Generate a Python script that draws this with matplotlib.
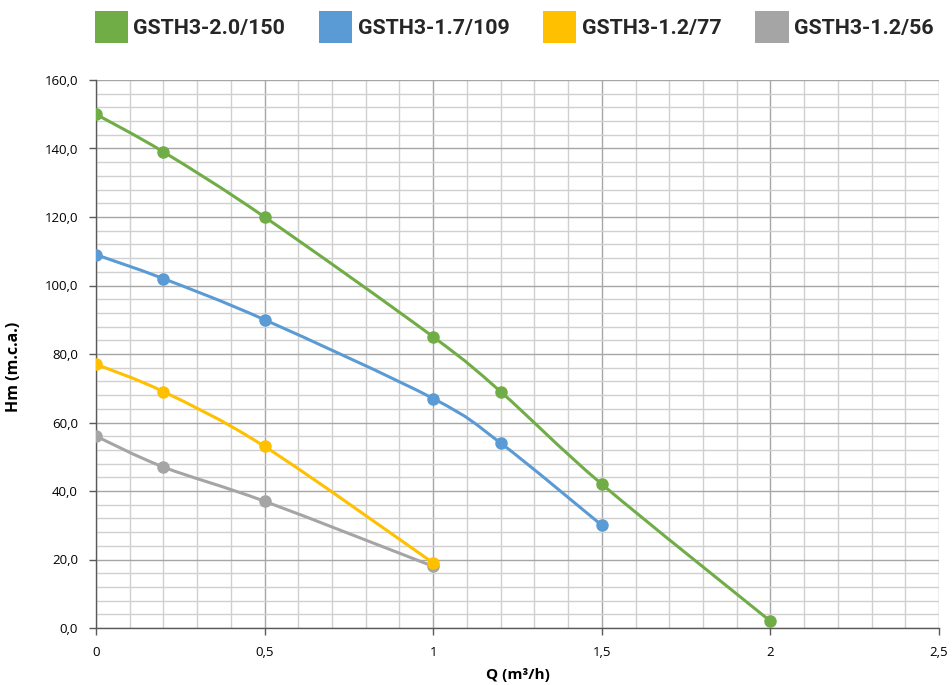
import matplotlib
matplotlib.use("Agg")
import matplotlib.pyplot as plt
from matplotlib.path import Path
from matplotlib.patches import PathPatch, Patch
from matplotlib.ticker import MultipleLocator, FuncFormatter
import numpy as np

# ---- data ----
series_names = ["GSTH3-2.0/150", "GSTH3-1.7/109", "GSTH3-1.2/77", "GSTH3-1.2/56"]
q_green = [0, 0.2, 0.5, 1.0, 1.2, 1.5, 2.0]
h_green = [150, 139, 120, 85, 69, 42, 2]
q_blue = [0, 0.2, 0.5, 1.0, 1.2, 1.5]
h_blue = [109, 102, 90, 67, 54, 30]
q_yellow = [0, 0.2, 0.5, 1.0]
h_yellow = [77, 69, 53, 19]
q_gray = [0, 0.2, 0.5, 1.0]
h_gray = [56, 47, 37, 18]
colors = ["#70AD47", "#5B9BD5", "#FFC000", "#A5A5A5"]
x_label = "Q (m³/h)"
y_label = "Hm (m.c.a.)"

fig = plt.figure(figsize=(9.52, 6.85), dpi=100)
ax = fig.add_axes([96/952, 1-628/685, (939-96)/952, (628-80)/685])

def smooth_path(xs, ys):
    pts = np.column_stack([xs, ys]).astype(float)
    n = len(pts)
    verts = [pts[0]]
    codes = [Path.MOVETO]
    for i in range(n - 1):
        p0 = pts[i - 1] if i > 0 else pts[i]
        p1 = pts[i]
        p2 = pts[i + 1]
        p3 = pts[i + 2] if i + 2 < n else pts[i + 1]
        c1 = p1 + (p2 - p0) / 6.0
        c2 = p2 - (p3 - p1) / 6.0
        verts += [c1, c2, p2]
        codes += [Path.CURVE4] * 3
    return Path(verts, codes)

data = [(q_green, h_green), (q_blue, h_blue), (q_yellow, h_yellow), (q_gray, h_gray)]
for (qs, hs), c in reversed(list(zip(data, colors))):
    ax.add_patch(PathPatch(smooth_path(qs, hs), facecolor="none", edgecolor=c,
                           lw=2.2, capstyle="round", zorder=3))
    ax.plot(qs, hs, linestyle="none", marker="o", ms=8, color=c, zorder=4)

ax.set_xlim(0, 2.5)
ax.set_ylim(0, 160)
ax.xaxis.set_major_locator(MultipleLocator(0.5))
ax.xaxis.set_minor_locator(MultipleLocator(0.1))
ax.yaxis.set_major_locator(MultipleLocator(20))
ax.yaxis.set_minor_locator(MultipleLocator(4))
ax.grid(which="major", color="#A6A6A6", lw=1.0, zorder=1)
ax.grid(which="minor", color="#D0D0D0", lw=1.0, zorder=0)
ax.set_axisbelow(True)

def fmt_x(v, p):
    return ("%g" % round(v, 2)).replace(".", ",")

def fmt_y(v, p):
    return ("%.1f" % v).replace(".", ",")

ax.xaxis.set_major_formatter(FuncFormatter(fmt_x))
ax.yaxis.set_major_formatter(FuncFormatter(fmt_y))

for s in ["top", "right"]:
    ax.spines[s].set_visible(False)
for s in ["left", "bottom"]:
    ax.spines[s].set_color("#595959")
    ax.spines[s].set_linewidth(1.0)

ax.tick_params(which="major", direction="out", length=5, width=1.0, color="#595959",
               labelsize=9.5, labelcolor="#000000", pad=8)
ax.tick_params(which="minor", length=0)
for lab in ax.get_xticklabels() + ax.get_yticklabels():
    lab.set_family("Open Sans")

ax.set_xlabel(x_label, fontsize=11, fontweight="bold", family="Open Sans")
ax.set_ylabel(y_label, fontsize=11.5, fontweight="bold", family="Open Sans")
ax.xaxis.set_label_coords(0.5, (628 - 675) / 548, transform=ax.transAxes)
ax.yaxis.set_label_coords((14 - 96) / 843, (628 - 367) / 548, transform=ax.transAxes)
ax.xaxis.label.set_va("center")
ax.yaxis.label.set_va("center")

handles = [Patch(facecolor=c, edgecolor="none") for c in colors]
leg = fig.legend(handles, series_names, loc="upper center", bbox_to_anchor=(0.540, 1.0),
                 ncol=4, frameon=False, handlelength=1.55, handleheight=1.95,
                 handletextpad=0.25, columnspacing=1.59, borderaxespad=0.1,
                 prop={"family": "Roboto", "weight": "bold", "size": 15.4})
for t in leg.get_texts():
    t.set_color("#262626")

fig.savefig("out.png", dpi=100)
